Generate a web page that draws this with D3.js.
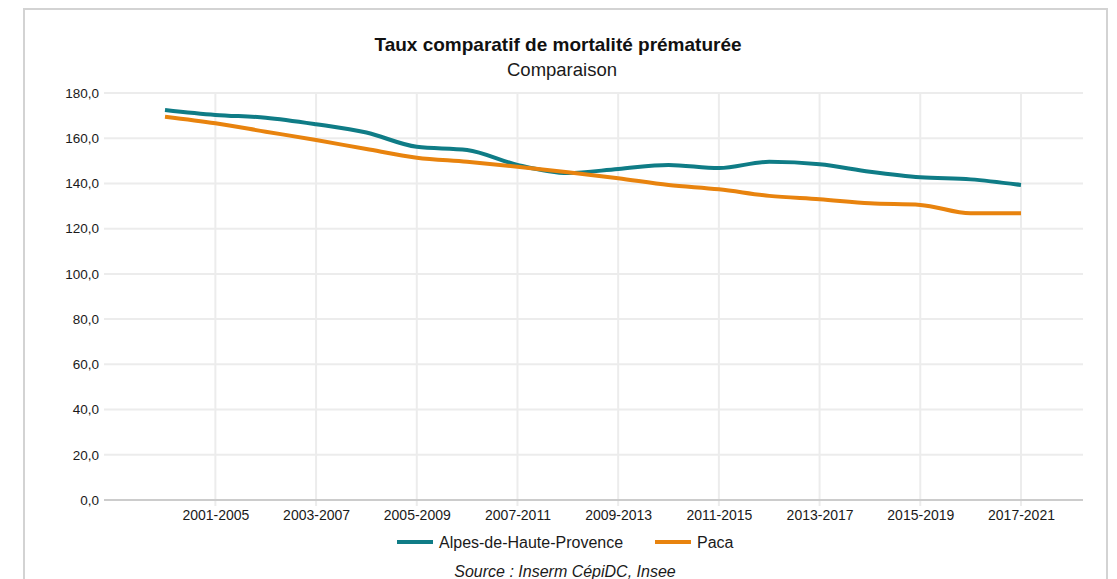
<html>
<head>
	<meta charset="utf-8">
	<title>Taux comparatif de mortalité prématurée</title>
	<script src="https://cdn.jsdelivr.net/npm/d3@7/dist/d3.min.js"></script>
	<style type="text/css">
		body{
			margin: 0;
			background: #ffffff;
			font-family: "Liberation Sans", Arial, sans-serif;
		}
	</style>
</head>
<body>
	<div id="chart"></div>

<script type="text/javascript">

	// Data
	var periods = ['2000-2004', '2001-2005', '2002-2006', '2003-2007', '2004-2008', '2005-2009',
	               '2006-2010', '2007-2011', '2008-2012', '2009-2013', '2010-2014', '2011-2015',
	               '2012-2016', '2013-2017', '2014-2018', '2015-2019', '2016-2020', '2017-2021'];
	var alpes = [172.5, 170.3, 169.1, 166.2, 162.5, 156.2, 154.8, 148.2, 144.6,
	             146.4, 148.2, 146.8, 149.6, 148.5, 145.2, 142.7, 141.8, 139.3];
	var paca = [169.5, 166.6, 162.9, 159.2, 155.2, 151.4, 149.6, 147.4, 145.0,
	            142.3, 139.3, 137.4, 134.5, 133.0, 131.2, 130.5, 126.8, 126.8];
	var yTicks = [0, 20, 40, 60, 80, 100, 120, 140, 160, 180];
	var seriesNames = ['Alpes-de-Haute-Provence', 'Paca'];
	var seriesColors = ['#0f7c86', '#e8830e'];

	var W = 1117, H = 579;
	var plotLeft = 104, plotRight = 1083, plotTop = 93, plotBottom = 500;

	var svg = d3.select("#chart").append("svg").attr("width", W).attr("height", H);

	// Frame around the chart
	svg.append("rect")
		.attr("x", 24).attr("y", 9)
		.attr("width", 1083).attr("height", 620)
		.attr("fill", "none")
		.attr("stroke", "#d3d3d3")
		.attr("stroke-width", 2);

	// Scales
	var x = d3.scalePoint().domain(periods).range([165, 1021]);
	var y = d3.scaleLinear().domain([0, 180]).range([plotBottom, plotTop]);
	var fmt = function(v){ return d3.format(".1f")(v).replace(".", ","); };

	// Horizontal grid
	svg.append("g").selectAll("line").data(yTicks.filter(function(d){ return d > 0; })).enter()
		.append("line")
		.attr("x1", plotLeft).attr("x2", plotRight)
		.attr("y1", function(d){ return y(d); }).attr("y2", function(d){ return y(d); })
		.attr("stroke", "#ececec").attr("stroke-width", 2);

	// Vertical grid, every other period
	var shown = periods.filter(function(d, i){ return i % 2 == 1; });
	svg.append("g").selectAll("line").data(shown).enter()
		.append("line")
		.attr("x1", function(d){ return x(d); }).attr("x2", function(d){ return x(d); })
		.attr("y1", plotTop).attr("y2", plotBottom + 6)
		.attr("stroke", "#ececec").attr("stroke-width", 2);

	// Baseline
	svg.append("line")
		.attr("x1", plotLeft).attr("x2", plotRight)
		.attr("y1", plotBottom).attr("y2", plotBottom)
		.attr("stroke", "#cccccc").attr("stroke-width", 2);

	// Y axis labels
	var yAxis = d3.axisLeft(y).tickValues(yTicks).tickFormat(fmt).tickSize(0).tickPadding(5);
	var gy = svg.append("g").attr("transform", "translate(" + plotLeft + ",0)").call(yAxis);
	gy.select(".domain").remove();
	gy.selectAll("text")
		.attr("font-family", "Liberation Sans, Arial, sans-serif")
		.attr("font-size", 13.5).attr("fill", "#1a1a1a");

	// X axis labels
	var xAxis = d3.axisBottom(x).tickValues(shown).tickSize(0).tickPadding(10);
	var gx = svg.append("g").attr("transform", "translate(0," + plotBottom + ")").call(xAxis);
	gx.select(".domain").remove();
	gx.selectAll("text")
		.attr("font-family", "Liberation Sans, Arial, sans-serif")
		.attr("font-size", 14).attr("fill", "#1a1a1a");

	// Lines
	var line = d3.line()
		.x(function(d, i){ return x(periods[i]); })
		.y(function(d){ return y(d); })
		.curve(d3.curveMonotoneX);

	[alpes, paca].forEach(function(values, k){
		svg.append("path")
			.attr("d", line(values))
			.attr("fill", "none")
			.attr("stroke", seriesColors[k])
			.attr("stroke-width", 4)
			.attr("stroke-linejoin", "round");
	});

	// Title and subtitle
	svg.append("text")
		.attr("x", 558).attr("y", 51)
		.attr("text-anchor", "middle")
		.attr("font-size", 19).attr("font-weight", "bold").attr("fill", "#111")
		.text("Taux comparatif de mortalité prématurée");
	svg.append("text")
		.attr("x", 562).attr("y", 76)
		.attr("text-anchor", "middle")
		.attr("font-size", 18.5).attr("fill", "#1a1a1a")
		.text("Comparaison");

	// Legend
	var legendX = [397, 655];
	seriesNames.forEach(function(name, k){
		svg.append("line")
			.attr("x1", legendX[k]).attr("x2", legendX[k] + 36)
			.attr("y1", 542).attr("y2", 542)
			.attr("stroke", seriesColors[k]).attr("stroke-width", 4);
		svg.append("text")
			.attr("x", legendX[k] + 42).attr("y", 548)
			.attr("font-size", 16).attr("fill", "#1a1a1a")
			.text(name);
	});

	// Source
	svg.append("text")
		.attr("x", 565).attr("y", 577)
		.attr("text-anchor", "middle")
		.attr("font-size", 16).attr("font-style", "italic").attr("fill", "#1a1a1a")
		.text("Source : Inserm CépiDC, Insee");

</script>
</body>
</html>
